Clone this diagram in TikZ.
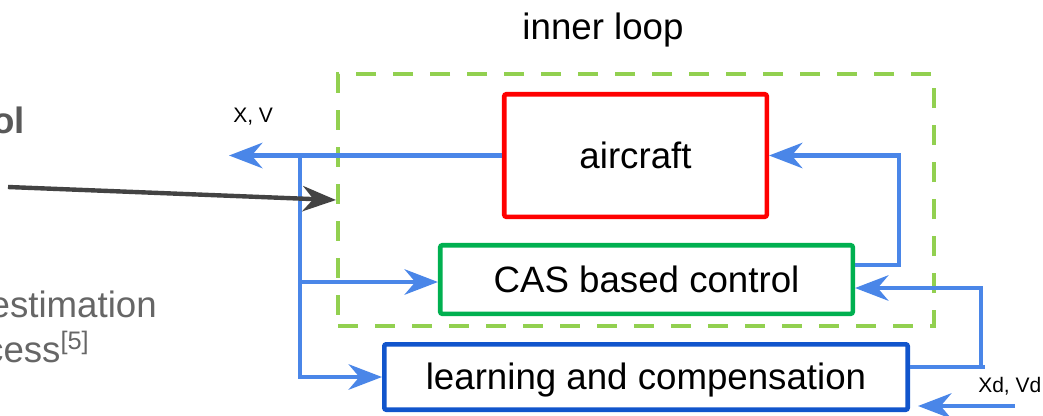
\documentclass[tikz,border=0pt]{standalone}
\usepackage{fontspec}
\setmainfont{Liberation Sans}
\usetikzlibrary{arrows.meta}
\definecolor{flowblue}{HTML}{4A86E8}
\definecolor{boxred}{HTML}{FF0000}
\definecolor{boxgreen}{HTML}{00B050}
\definecolor{boxblue}{HTML}{1155CC}
\definecolor{loopgreen}{HTML}{92D050}
\definecolor{darkarrow}{HTML}{434343}
\definecolor{slidegrey}{HTML}{666666}
\definecolor{titlegrey}{HTML}{595959}
\begin{document}
\begin{tikzpicture}[x=0.75pt,y=-0.75pt,
  bigtext/.style={font=\fontsize{27.5pt}{33pt}\selectfont},
  smalltext/.style={font=\fontsize{15.75pt}{19pt}\selectfont, inner sep=0pt},
  blk/.style={draw, line width=3.4pt, rounded corners=1.5pt, inner sep=0pt,
    fill=white, bigtext, text height=24.9pt, text depth=5.8pt},
  flow/.style={draw=flowblue, line width=3.5pt},
  tip/.style={-{Stealth[length=25pt,width=19pt,inset=8pt]}}
]
\useasboundingbox (0,0) rectangle (1043,415);
\clip (0,0) rectangle (1043,415);

% dashed frame of the inner loop
\node[draw=loopgreen, line width=3pt, dash pattern=on 15pt off 12.75pt,
  minimum width=447pt, minimum height=189pt, inner sep=0pt] (loop) at (636,200) {};
\node[bigtext, anchor=base, inner sep=0pt] (looplabel) at (603,39) {inner loop};

% blocks
\node[blk, draw=boxred, minimum width=196.9pt, minimum height=91.9pt] (air) at (635.5,155.5) {aircraft};
\node[blk, draw=boxgreen, minimum width=309.4pt, minimum height=51.4pt] (cas) at (646.5,279.5) {CAS based control};
\node[blk, draw=boxblue, minimum width=392.6pt, minimum height=49.1pt] (lrn) at (646,377) {learning and compensation};

% junction and bend points
\coordinate (xv) at (229,156);
\coordinate (trunk) at (300,156);
\coordinate (tc) at (300,282);
\coordinate (fb) at (899,265);
\coordinate (lo) at (981,367);
\coordinate (li) at (981,288);
\coordinate (xd) at (1015,406);
\coordinate (ext) at (8,187);

% state output and its branches
\draw[flow,tip] (air.west) -- (air.west -| xv);
\draw[flow,tip] (trunk) |- (lrn.west);
\draw[flow,tip] (tc) -- (cas.west |- tc);

% control to aircraft
\draw[flow,tip] (cas.east |- fb) -- (fb) |- (air.east);

% compensation to control
\draw[flow] (lrn.east |- lo) -- ++(75,0);
\draw[flow,tip] (lo) -- (li) -- (cas.east |- li);

% reference input
\draw[flow,tip,shorten >=6pt] (xd) -- (lrn.east |- xd);

% external arrow into the loop
\draw[draw=darkarrow, line width=3.3pt, tip] (ext) -- (loop.west |- 0,200);

% labels
\node[smalltext, anchor=base west] (xvlabel) at (233,122) {X, V};
\node[smalltext, anchor=base west] (xdlabel) at (978,392) {Xd, Vd};

% side text
\node[bigtext, anchor=base east, inner sep=0pt, text=titlegrey] (sidetitle) at (25,133) {\bfseries ol};
\node[bigtext, anchor=base east, inner sep=0pt, text=slidegrey] (side1) at (157,317) {estimation};
\node[bigtext, anchor=base east, inner sep=0pt, text=slidegrey] (side2) at (89,362)
  {cess\raisebox{9.5pt}{\fontsize{19pt}{21pt}\selectfont[5]}};
\end{tikzpicture}
\end{document}
